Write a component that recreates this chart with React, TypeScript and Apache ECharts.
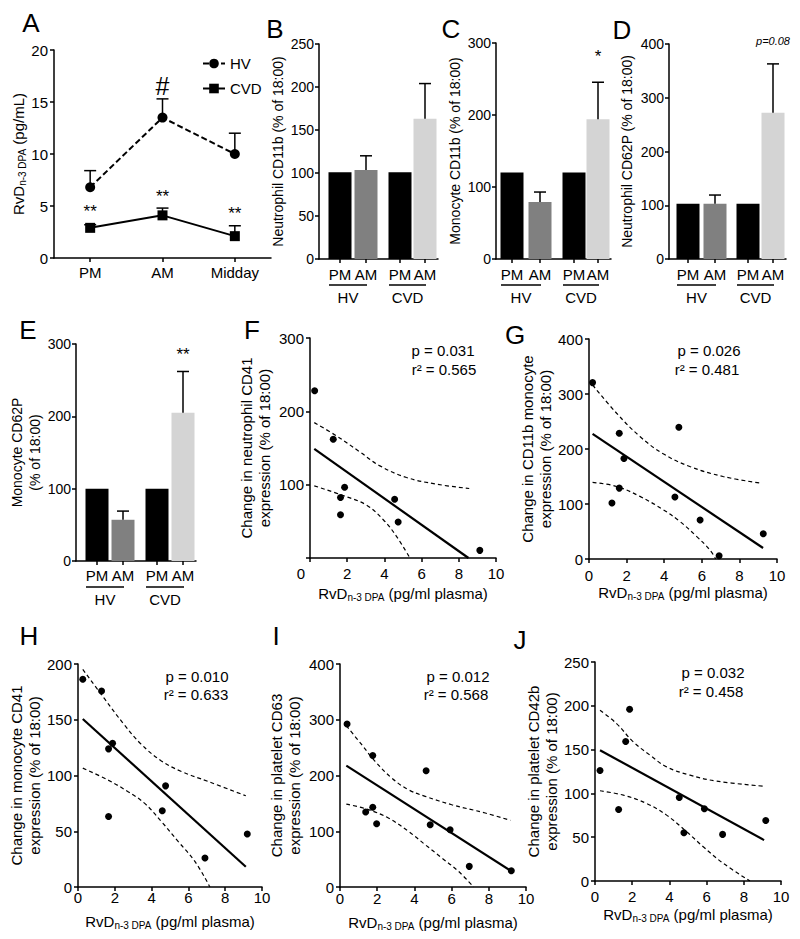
import React, { useEffect, useRef } from 'react';
import * as echarts from 'echarts';

const FONT = '"Liberation Sans", Arial, Helvetica, sans-serif';

// ---------------- Panel A data ----------------
const timeCategories = ['PM', 'AM', 'Midday'];
const hvRvd = [6.8, 13.5, 10.0];
const hvRvdErr = [1.6, 1.8, 2.0];
const cvdRvd = [2.9, 4.1, 2.1];
const cvdRvdErr = [0.3, 0.7, 1.0];
const cvdStarY = [4.5, 5.9, 4.25];
const cvdStarText = ['**', '**', '**'];
const hvHashY = 16.5;
const hvHashIndex = 1;

// ---------------- Bar panels data (B–E) ----------------
const barCategories = ['PM', 'AM', 'PM', 'AM'];
const barGroupLabels = ['HV', 'CVD'];
const neutCD11b = [101, 103.5, 101, 163];
const neutCD11bErr = [0, 16.5, 0, 41];
const monoCD11b = [120, 79, 120, 194];
const monoCD11bErr = [0, 14, 0, 51.5];
const neutCD62P = [103, 103, 103, 272];
const neutCD62PErr = [0, 16, 0, 91];
const monoCD62P = [100, 57, 100, 205];
const monoCD62PErr = [0, 12, 0, 57];
const noteC = { text: '*', y: 281 };
const noteD = { text: 'p=0.08', y: 406 };
const noteE = { text: '**', y: 285 };

// ---------------- Scatter panels data (F–J) ----------------
const fX = [0.25, 1.25, 1.64, 1.86, 1.64, 4.55, 4.74, 9.13];
const fY = [228, 162, 82.5, 96.5, 59, 80, 49, 10.4];
const fLine = [[0.23, 148.8], [8.52, 0]];
const fUpper = [[0.23, 184.6], [1.43, 166.4], [2.68, 144.7], [3.76, 125.6], [5.19, 109.8], [6.8, 100.7], [8.56, 94.8]];
const fLower = [[0.23, 98.4], [1.97, 83.5], [3.04, 72.1], [3.94, 52.2], [4.65, 29.5], [5.37, 0]];

const gX = [0.19, 1.61, 1.86, 1.61, 1.22, 4.78, 4.57, 5.91, 6.92, 9.27];
const gY = [320.7, 228.7, 182.8, 128.9, 101.7, 239.6, 112.6, 70.8, 6, 46];
const gLine = [[0.19, 227.5], [9.26, 20]];
const gUpper = [[0.19, 316.5], [1.47, 265], [2.71, 222.7], [3.95, 191.2], [5.36, 168.2], [7.13, 150], [9.13, 138]];
const gLower = [[0.19, 139.2], [1.47, 131.9], [2.71, 113.8], [3.95, 89.6], [4.83, 68.4], [5.72, 41.1], [6.42, 16.9], [6.74, 0]];

const hX = [0.26, 1.28, 1.88, 1.66, 1.66, 4.76, 4.58, 6.9, 9.2];
const hY = [186.3, 175.8, 129, 123.9, 63.3, 90.7, 68.4, 26, 47.5];
const hLine = [[0.26, 150.7], [9.12, 18.2]];
const hUpper = [[0.26, 195.2], [1.42, 169.3], [2.52, 145.4], [3.43, 128.1], [4.53, 113.1], [5.62, 103.6], [7.08, 94.6], [9.12, 81.8]];
const hLower = [[0.26, 106.6], [1.61, 96.1], [2.7, 85.7], [3.61, 75.2], [4.53, 58.8], [5.44, 40.9], [6.35, 23], [7.17, 0]];

const iX = [0.38, 1.76, 1.76, 1.38, 1.97, 4.63, 4.85, 5.92, 6.95, 9.21];
const iY = [292.3, 236, 142.9, 134.5, 113.6, 208.6, 111.8, 102.8, 37, 29.3];
const iLine = [[0.34, 217.6], [9.16, 29.3]];
const iUpper = [[0.34, 289.3], [1.17, 255.2], [1.89, 225.3], [2.78, 195.5], [3.68, 174.5], [4.58, 162.6], [6.01, 147.6], [7.81, 132.7], [9.16, 119.5]];
const iLower = [[0.34, 148.8], [1.53, 138.7], [2.6, 123.7], [3.68, 99.8], [4.58, 75.9], [5.48, 52], [6.37, 28.1], [7.18, 0]];

const jX = [0.27, 1.86, 1.65, 1.27, 4.53, 4.78, 5.88, 6.86, 9.18];
const jY = [126.1, 196, 159.2, 81.7, 95.4, 55.1, 82.4, 53.2, 69.1];
const jLine = [[0.27, 149.3], [9.09, 46.7]];
const jUpper = [[0.27, 194.9], [1.16, 179.7], [2.06, 158.8], [2.96, 143.6], [3.85, 130.3], [5.11, 120.8], [6.54, 114], [9.05, 108.3]];
const jLower = [[0.27, 103], [1.52, 98], [2.78, 88.5], [3.85, 75.2], [4.93, 56.2], [5.82, 39.1], [6.9, 20.1], [8.33, 0]];

const statsF = ['p = 0.031', 'r\u00b2 = 0.565'];
const statsG = ['p = 0.026', 'r\u00b2 = 0.481'];
const statsH = ['p = 0.010', 'r\u00b2 = 0.633'];
const statsI = ['p = 0.012', 'r\u00b2 = 0.568'];
const statsJ = ['p = 0.032', 'r\u00b2 = 0.458'];

// ---------------- Layout (pixels) ----------------
const LAYOUT: Record<string, { left: number; top: number; width: number; height: number }> = {
  A: { left: 54, top: 50, width: 217, height: 208 },
  B: { left: 319, top: 44, width: 119, height: 215 },
  C: { left: 496, top: 43, width: 115, height: 216 },
  D: { left: 669, top: 44, width: 117, height: 215 },
  E: { left: 76, top: 344, width: 120, height: 217 },
  F: { left: 310, top: 338, width: 186, height: 220 },
  G: { left: 589, top: 339, width: 188, height: 220 },
  H: { left: 78, top: 664, width: 184, height: 223 },
  I: { left: 340, top: 664, width: 186, height: 223 },
  J: { left: 595, top: 662, width: 186, height: 219 },
};
const BAR_POS: Record<string, number[]> = {
  B: [21, 47, 81, 106],
  C: [16, 44, 78, 102],
  D: [19, 46, 79, 104],
  E: [21, 47, 81, 107],
};
const BAR_COLORS = ['#000000', '#808080', '#000000', '#d4d4d4'];

const LETTERS: [string, number, number][] = [
  ['A', 31, 23], ['B', 275, 29], ['C', 451, 29], ['D', 622, 30], ['E', 28, 330],
  ['F', 252, 330], ['G', 515, 335], ['H', 29, 636], ['I', 276, 636], ['J', 520, 640],
];

const axisLine = { show: true, onZero: false, lineStyle: { color: '#000', width: 1.5 } };
const axisTick = { show: true, inside: false, length: 4, lineStyle: { color: '#000', width: 1.5 } };
const labelStyle = { color: '#000', fontSize: 15, fontFamily: FONT };
const richName = (size: number) => ({
  color: '#000',
  fontSize: size,
  fontFamily: FONT,
  lineHeight: 18,
  rich: {
    a: { color: '#000', fontSize: size, fontFamily: FONT, lineHeight: 18 },
    s: { color: '#000', fontSize: 10, fontFamily: FONT, lineHeight: 18, verticalAlign: 'bottom' },
  },
});

function errRender(params: any, api: any) {
  const x = api.value(0);
  const m = api.value(1);
  const e = api.value(2);
  if (!(e > 0)) return { type: 'group', children: [] };
  const p0 = api.coord([x, m]);
  const p1 = api.coord([x, m + e]);
  return {
    type: 'group',
    children: [
      { type: 'line', shape: { x1: p0[0], y1: p0[1], x2: p1[0], y2: p1[1] }, style: { stroke: '#000', lineWidth: 1.5 } },
      { type: 'line', shape: { x1: p1[0] - 6, y1: p1[1], x2: p1[0] + 6, y2: p1[1] }, style: { stroke: '#000', lineWidth: 1.5 } },
    ],
  };
}

function buildOption() {
  const grids: any[] = [];
  const xAxes: any[] = [];
  const yAxes: any[] = [];
  const series: any[] = [];
  const graphics: any[] = [];

  const addGrid = (key: string) => {
    grids.push({ ...LAYOUT[key], containLabel: false, outerBoundsMode: 'none' });
    return grids.length - 1;
  };

  const noteLabel = (extra: any) => ({
    show: true, position: 'inside', formatter: '{b}', color: '#000', opacity: 1,
    fontFamily: FONT, textBorderWidth: 0, ...extra,
  });

  // ---------- Panel A ----------
  {
    const g = addGrid('A');
    xAxes.push({
      type: 'category', gridIndex: g, data: timeCategories, boundaryGap: true,
      axisLine, axisTick: { ...axisTick, alignWithLabel: true },
      axisLabel: { ...labelStyle, margin: 7 }, splitLine: { show: false },
    });
    const xi = xAxes.length - 1;
    yAxes.push({
      type: 'value', gridIndex: g, min: 0, max: 20, interval: 5,
      axisLine, axisTick, axisLabel: { ...labelStyle, margin: 6 }, splitLine: { show: false },
      name: '{a|RvD}{s|n-3 DPA}{a| (pg/mL)}', nameLocation: 'middle', nameGap: 25,
      nameTextStyle: richName(15),
    });
    const yi = yAxes.length - 1;
    series.push({
      type: 'custom', name: 'errHV', xAxisIndex: xi, yAxisIndex: yi, renderItem: errRender, z: 1,
      data: hvRvd.map((v, i) => [i, v, hvRvdErr[i]]),
    });
    series.push({
      type: 'custom', name: 'errCVD', xAxisIndex: xi, yAxisIndex: yi, renderItem: errRender, z: 1,
      data: cvdRvd.map((v, i) => [i, v, cvdRvdErr[i]]),
    });
    series.push({
      type: 'line', name: 'HV', xAxisIndex: xi, yAxisIndex: yi, data: hvRvd, z: 3,
      symbol: 'circle', symbolSize: 10, itemStyle: { color: '#000', opacity: 1 },
      lineStyle: { color: '#000', width: 2, type: [6, 3] },
    });
    series.push({
      type: 'line', name: 'CVD', xAxisIndex: xi, yAxisIndex: yi, data: cvdRvd, z: 3,
      symbol: 'rect', symbolSize: 10, itemStyle: { color: '#000', opacity: 1 },
      lineStyle: { color: '#000', width: 2, type: 'solid' },
    });
    series.push({
      type: 'scatter', name: 'notesA', xAxisIndex: xi, yAxisIndex: yi, symbolSize: 0, clip: false, silent: true,
      itemStyle: { color: '#000', opacity: 1 },
      data: [
        ...cvdStarY.map((y, i) => ({ name: cvdStarText[i], value: [i, y] })),
        { name: '#', value: [hvHashIndex, hvHashY], label: { fontSize: 25 } },
      ],
      label: noteLabel({ fontSize: 17 }),
    });
  }

  // ---------- Bar panels ----------
  const addBarPanel = (key: string, values: number[], errs: number[], yMax: number, yInt: number,
    yName: string, nameGap: number, labelMargin: number, note: { text: string; y: number } | null, noteStyle: any) => {
    const g = addGrid(key);
    const pos = BAR_POS[key];
    const xMax = LAYOUT[key].width;
    const fmt = (v: number) => {
      const i = pos.findIndex((p) => Math.abs(p - v) < 1e-6);
      return i >= 0 ? barCategories[i] : '';
    };
    xAxes.push({
      type: 'value', gridIndex: g, min: 0, max: xMax,
      axisLine, axisTick: { ...axisTick, customValues: pos },
      axisLabel: { ...labelStyle, customValues: pos, formatter: fmt, margin: labelMargin },
      splitLine: { show: false },
    });
    const xi = xAxes.length - 1;
    yAxes.push({
      type: 'value', gridIndex: g, min: 0, max: yMax, interval: yInt,
      axisLine, axisTick, axisLabel: { ...labelStyle, fontSize: 14, margin: 5 }, splitLine: { show: false },
      name: yName, nameLocation: 'middle', nameGap,
      nameTextStyle: { color: '#000', fontSize: 14, fontFamily: FONT, lineHeight: 18 },
    });
    const yi = yAxes.length - 1;
    series.push({
      type: 'bar', name: 'bars' + key, xAxisIndex: xi, yAxisIndex: yi, barWidth: 23,
      data: values.map((v, i) => ({ value: [pos[i], v], itemStyle: { color: BAR_COLORS[i] } })),
    });
    series.push({
      type: 'custom', name: 'err' + key, xAxisIndex: xi, yAxisIndex: yi, renderItem: errRender, z: 3,
      data: values.map((v, i) => [pos[i], v, errs[i]]),
    });
    series.push({
      type: 'custom', name: 'groups' + key, xAxisIndex: xi, yAxisIndex: yi, z: 3, silent: true,
      data: [[pos[0], pos[1], 0], [pos[2], pos[3], 1]],
      renderItem: (params: any, api: any) => {
        const p0 = api.coord([api.value(0), 0]);
        const p1 = api.coord([api.value(1), 0]);
        const x1 = p0[0] - 11;
        const x2 = p1[0] + 1;
        const y = p0[1];
        return {
          type: 'group',
          children: [
            { type: 'line', shape: { x1, y1: y + 26, x2, y2: y + 26 }, style: { stroke: '#000', lineWidth: 1.5 } },
            {
              type: 'text', x: (x1 + x2) / 2, y: y + 38,
              style: { text: barGroupLabels[api.value(2)], fill: '#000', fontSize: 15, fontFamily: FONT, align: 'center', verticalAlign: 'middle' },
            },
          ],
        };
      },
    });
    if (note) {
      series.push({
        type: 'scatter', name: 'note' + key, xAxisIndex: xi, yAxisIndex: yi, symbolSize: 0, clip: false, silent: true,
        itemStyle: { color: '#000', opacity: 1 },
        data: [{ name: note.text, value: [pos[3], note.y] }],
        label: noteLabel(noteStyle),
      });
    }
  };

  addBarPanel('B', neutCD11b, neutCD11bErr, 250, 50, 'Neutrophil CD11b (% of 18:00)', 31, 8, null, {});
  addBarPanel('C', monoCD11b, monoCD11bErr, 300, 100, 'Monocyte CD11b (% of 18:00)', 32, 8, noteC, { fontSize: 17 });
  addBarPanel('D', neutCD62P, neutCD62PErr, 400, 100, 'Neutrophil CD62P (% of 18:00)', 33, 8, noteD, { fontSize: 11, fontStyle: 'italic' });
  addBarPanel('E', monoCD62P, monoCD62PErr, 300, 100, 'Monocyte CD62P\n(% of 18:00)', 25, 7, noteE, { fontSize: 17 });

  // ---------- Scatter panels ----------
  const addScatterPanel = (key: string, xs: number[], ys: number[], line: number[][], upper: number[][], lower: number[][],
    yMax: number, yInt: number, yName: string, nameGap: number, xLabelMargin: number, xNameGap: number,
    hideZeroY: boolean, stats: string[], statPos: [number, number, number, number]) => {
    const g = addGrid(key);
    xAxes.push({
      type: 'value', gridIndex: g, min: 0, max: 10, interval: 2,
      axisLine, axisTick,
      axisLabel: hideZeroY
        ? { ...labelStyle, margin: xLabelMargin, formatter: (v: number) => (v === 0 ? '{z|0}' : String(v)), rich: { z: { ...labelStyle, padding: [0, 18, 0, 0] } } }
        : { ...labelStyle, margin: xLabelMargin },
      splitLine: { show: false },
      name: '{a|RvD}{s|n-3 DPA}{a| (pg/ml plasma)}', nameLocation: 'middle', nameGap: xNameGap,
      nameTextStyle: richName(15),
    });
    const xi = xAxes.length - 1;
    yAxes.push({
      type: 'value', gridIndex: g, min: 0, max: yMax, interval: yInt,
      axisLine, axisTick,
      axisLabel: { ...labelStyle, margin: 6, formatter: (v: number) => (hideZeroY && v === 0 ? '' : String(v)) },
      splitLine: { show: false },
      name: yName, nameLocation: 'middle', nameGap,
      nameTextStyle: { color: '#000', fontSize: 15, fontFamily: FONT, lineHeight: 18 },
    });
    const yi = yAxes.length - 1;
    series.push({
      type: 'line', name: 'upper' + key, xAxisIndex: xi, yAxisIndex: yi, data: upper, smooth: 0.4,
      showSymbol: false, symbol: 'none', lineStyle: { color: '#000', width: 1.2, type: [4, 3] }, z: 2,
    });
    series.push({
      type: 'line', name: 'lower' + key, xAxisIndex: xi, yAxisIndex: yi, data: lower, smooth: 0.4,
      showSymbol: false, symbol: 'none', lineStyle: { color: '#000', width: 1.2, type: [4, 3] }, z: 2,
    });
    series.push({
      type: 'line', name: 'fit' + key, xAxisIndex: xi, yAxisIndex: yi, data: line,
      showSymbol: false, symbol: 'none', lineStyle: { color: '#000', width: 2.2 }, z: 2,
    });
    series.push({
      type: 'scatter', name: 'pts' + key, xAxisIndex: xi, yAxisIndex: yi, symbolSize: 7,
      itemStyle: { color: '#000', opacity: 1 }, z: 3,
      data: xs.map((x, i) => [x, ys[i]]),
    });
    graphics.push({
      type: 'text', x: statPos[0], y: statPos[1],
      style: { text: stats[0], fill: '#000', fontSize: 15, fontFamily: FONT, align: 'center', verticalAlign: 'middle' },
    });
    graphics.push({
      type: 'text', x: statPos[2], y: statPos[3],
      style: { text: stats[1], fill: '#000', fontSize: 15, fontFamily: FONT, align: 'center', verticalAlign: 'middle' },
    });
  };

  addScatterPanel('F', fX, fY, fLine, fUpper, fLower, 300, 100, 'Change in neutrophil CD41\nexpression (% of 18:00)', 37, 8, 26, true, statsF, [443, 350, 444, 369]);
  addScatterPanel('G', gX, gY, gLine, gUpper, gLower, 400, 100, 'Change in CD11b monocyte\nexpression (% of 18:00)', 34, 9, 23, false, statsG, [709, 350, 707, 369]);
  addScatterPanel('H', hX, hY, hLine, hUpper, hLower, 200, 50, 'Change in monocyte CD41\nexpression (% of 18:00)', 25, 3, 25, false, statsH, [197, 676, 196, 694]);
  addScatterPanel('I', iX, iY, iLine, iUpper, iLower, 400, 100, 'Change in platelet CD63\nexpression (% of 18:00)', 37, 4, 26, false, statsI, [458, 676, 456, 694]);
  addScatterPanel('J', jX, jY, jLine, jUpper, jLower, 250, 50, 'Change in platelet CD42b\nexpression (% of 18:00)', 32, 8, 24, false, statsJ, [713, 672, 711, 691]);

  LETTERS.forEach(([t, x, y]) => {
    graphics.push({
      type: 'text', x, y,
      style: { text: t, fill: '#000', fontSize: 26, fontFamily: FONT, align: 'center', verticalAlign: 'middle' },
    });
  });

  return {
    animation: false,
    backgroundColor: '#fff',
    textStyle: { fontFamily: FONT, color: '#000' },
    legend: [{
      data: ['HV', 'CVD'], left: 197, top: 51, orient: 'vertical', itemWidth: 22, itemHeight: 12, itemGap: 10,
      textStyle: { ...labelStyle }, selectedMode: false,
    }],
    grid: grids,
    xAxis: xAxes,
    yAxis: yAxes,
    series,
    graphic: graphics,
  };
}

export default function App() {
  const ref = useRef<HTMLDivElement>(null);
  useEffect(() => {
    if (!ref.current) return;
    const chart = echarts.init(ref.current, undefined, { renderer: 'svg' });
    chart.setOption(buildOption() as any);
    return () => chart.dispose();
  }, []);
  return (
    <div
      ref={ref}
      style={{ position: 'absolute', left: 0, top: 0, width: 800, height: 939, background: '#fff' }}
    />
  );
}
